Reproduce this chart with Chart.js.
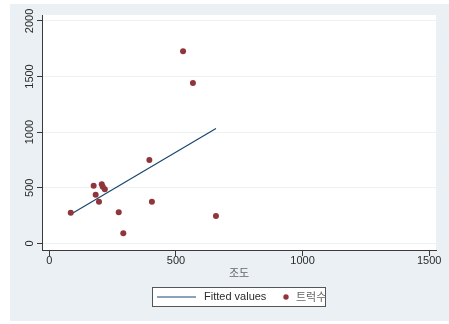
<!DOCTYPE html>
<html>
<head>
<meta charset="utf-8">
<script src="https://cdn.jsdelivr.net/npm/chart.js@4/dist/chart.umd.min.js"></script>
<style>
    html, body { margin: 0; padding: 0; background: #ffffff; }
    #wrap { position: relative; width: 449px; height: 324px; }
</style>
</head>
<body>
<div id="wrap"><canvas id="scatterChart" width="449" height="324"></canvas></div>
<script>
// 조도 (x) vs 트럭수 (y)
const illumX = [84.5, 175, 207, 211, 219, 183, 196, 274, 292, 395, 405, 658, 528, 567];
const truckY = [275, 518, 531, 509, 486, 437, 374, 279, 90, 749, 374, 245, 1727, 1441];

// linear fit end points
const fitX = [84.5, 658];
const fitY = [262, 1033];

const xTicks = [0, 500, 1000, 1500];
const yTicks = [0, 500, 1000, 1500, 2000];

const xTitle = '조도';
const fitLabel = 'Fitted values';
const scatterLabel = '트럭수';

const LINE_COLOR = '#1a476f';
const DOT_COLOR = '#90353b';
const BG_COLOR = '#eaf0f3';
const GRID_COLOR = '#eaf2f3';
const AXIS_COLOR = '#3a3a3a';
const TEXT_COLOR = '#2b2b2b';

document.addEventListener('DOMContentLoaded', () => {
    renderChart();
});

// Stata style background: bluish graph region, white plot region
const backgroundPlugin = {
    id: 'stataBackground',
    beforeDraw(chart) {
        const { ctx, chartArea } = chart;
        ctx.save();
        ctx.fillStyle = BG_COLOR;
        ctx.fillRect(10, 4, chart.width - 10, 317);
        ctx.fillStyle = '#ffffff';
        ctx.fillRect(chartArea.left, chartArea.top, chartArea.right - chartArea.left, chartArea.bottom - chartArea.top);
        ctx.restore();
    }
};

// Boxed legend below the axis title
const legendBoxPlugin = {
    id: 'legendBox',
    afterDraw(chart) {
        const { ctx } = chart;
        const midY = 297;
        ctx.save();
        ctx.fillStyle = '#ffffff';
        ctx.fillRect(152.5, 287.5, 173, 19);
        ctx.strokeStyle = '#555555';
        ctx.lineWidth = 1;
        ctx.strokeRect(152.5, 287.5, 173, 19);

        ctx.strokeStyle = LINE_COLOR;
        ctx.lineWidth = 1.2;
        ctx.beginPath();
        ctx.moveTo(157, midY);
        ctx.lineTo(196, midY);
        ctx.stroke();

        ctx.fillStyle = TEXT_COLOR;
        ctx.font = '11px "Liberation Sans", Arial, sans-serif';
        ctx.textBaseline = 'middle';
        ctx.textAlign = 'left';
        ctx.fillText(fitLabel, 204, midY);

        ctx.fillStyle = DOT_COLOR;
        ctx.beginPath();
        ctx.arc(286, midY, 2.7, 0, Math.PI * 2);
        ctx.fill();

        ctx.fillStyle = '#666666';
        ctx.font = '11px "Noto Sans CJK KR", sans-serif';
        ctx.fillText(scatterLabel, 296, midY);
        ctx.restore();
    }
};

function renderChart() {
    const ctx = document.getElementById('scatterChart').getContext('2d');

    const points = illumX.map((x, i) => ({ x: x, y: truckY[i] }));
    const fitted = fitX.map((x, i) => ({ x: x, y: fitY[i] }));

    new Chart(ctx, {
        type: 'scatter',
        data: {
            datasets: [
                {
                    type: 'line',
                    label: fitLabel,
                    data: fitted,
                    borderColor: LINE_COLOR,
                    borderWidth: 1.2,
                    pointRadius: 0,
                    fill: false,
                    tension: 0,
                    order: 1
                },
                {
                    label: scatterLabel,
                    data: points,
                    backgroundColor: DOT_COLOR,
                    borderWidth: 0,
                    pointRadius: 3,
                    order: 0
                }
            ]
        },
        options: {
            responsive: false,
            animation: false,
            layout: { padding: { left: 10, top: 15, right: 13, bottom: 45 } },
            plugins: {
                legend: { display: false },
                tooltip: { enabled: false }
            },
            scales: {
                x: {
                    type: 'linear',
                    min: -29,
                    max: 1527,
                    afterBuildTicks: (scale) => { scale.ticks = xTicks.map(v => ({ value: v })); },
                    afterFit: (scale) => { scale.height = 29; },
                    grid: { drawOnChartArea: false, tickLength: 6, tickColor: AXIS_COLOR },
                    border: { display: true, color: AXIS_COLOR, width: 1 },
                    ticks: {
                        color: TEXT_COLOR,
                        padding: -1.5,
                        maxRotation: 0,
                        callback: (v) => String(v),
                        font: { family: '"Liberation Sans", Arial, sans-serif', size: 11 }
                    },
                    title: {
                        display: true,
                        text: xTitle,
                        color: '#666666',
                        padding: 0,
                        font: { family: '"Noto Sans CJK KR", sans-serif', size: 11 }
                    }
                },
                y: {
                    type: 'linear',
                    min: -60,
                    max: 2053,
                    afterBuildTicks: (scale) => { scale.ticks = yTicks.map(v => ({ value: v })); },
                    afterFit: (scale) => { scale.width = 32; },
                    grid: { color: GRID_COLOR, lineWidth: 1, tickLength: 5, tickColor: AXIS_COLOR },
                    border: { display: true, color: AXIS_COLOR, width: 1 },
                    ticks: {
                        color: TEXT_COLOR,
                        minRotation: 90,
                        maxRotation: 90,
                        crossAlign: 'center',
                        padding: -5,
                        callback: (v) => String(v),
                        font: { family: '"Liberation Sans", Arial, sans-serif', size: 11 }
                    }
                }
            }
        },
        plugins: [backgroundPlugin, legendBoxPlugin]
    });
}
</script>
</body>
</html>
